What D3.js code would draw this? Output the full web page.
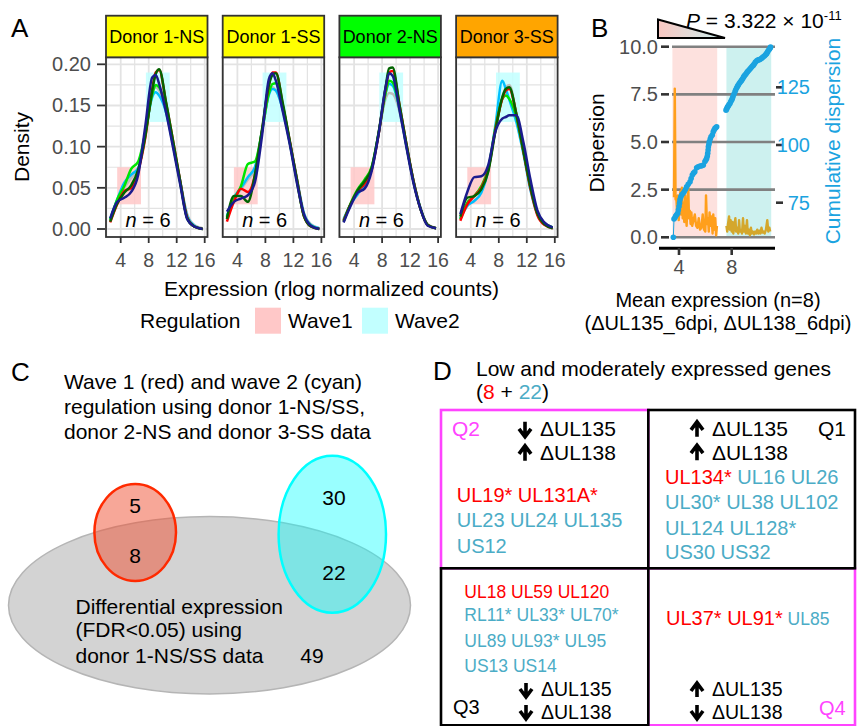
<!DOCTYPE html>
<html><head><meta charset="utf-8">
<script src="https://cdn.jsdelivr.net/npm/d3@7"></script>
<style>body{margin:0;background:#fff}svg{display:block}text{font-family:"Liberation Sans",Arial,sans-serif}</style>
</head><body>
<svg id="c" width="863" height="726"></svg>
<script>
// ---------- Panel A data ----------
const donors = ["Donor 1-NS","Donor 1-SS","Donor 2-NS","Donor 3-SS"];
const stripColors = ["#FFFF00","#FFFF00","#00FF00","#FFA500"];
const densityX = [2.5,3.5,4.5,5.5,6.5,7.5,8.5,9,9.5,10.5,11.5,12.5,13.5,14.5,15.7];
const sampleColors = ["#BDBDBD","#00BFFF","#00E600","#FF0000","#006400","#1B1B8E"];
const densD1NS = [
 [0.011,0.034,0.050,0.062,0.072,0.118,0.165,0.172,0.168,0.143,0.102,0.058,0.018,0.005,0.001],
 [0.012,0.036,0.056,0.066,0.074,0.116,0.160,0.166,0.162,0.141,0.101,0.058,0.016,0.004,0.000],
 [0.011,0.036,0.052,0.073,0.082,0.116,0.163,0.175,0.172,0.146,0.102,0.056,0.013,0.003,0.000],
 [0.008,0.030,0.046,0.050,0.070,0.110,0.170,0.190,0.193,0.152,0.106,0.058,0.014,0.003,0.000],
 [0.009,0.031,0.044,0.053,0.072,0.112,0.168,0.188,0.194,0.153,0.106,0.058,0.013,0.003,0.000],
 [0.013,0.033,0.038,0.045,0.066,0.124,0.184,0.187,0.176,0.141,0.098,0.054,0.012,0.003,0.000]];
const densD1SS = [
 [0.015,0.036,0.048,0.060,0.072,0.117,0.165,0.172,0.168,0.145,0.105,0.062,0.020,0.006,0.001],
 [0.016,0.038,0.050,0.063,0.075,0.118,0.163,0.170,0.168,0.144,0.104,0.060,0.019,0.005,0.001],
 [0.014,0.036,0.052,0.079,0.082,0.118,0.165,0.176,0.177,0.148,0.104,0.058,0.016,0.004,0.000],
 [0.009,0.033,0.049,0.045,0.065,0.118,0.175,0.190,0.190,0.150,0.106,0.060,0.016,0.003,0.000],
 [0.012,0.040,0.040,0.033,0.066,0.120,0.175,0.187,0.189,0.152,0.106,0.060,0.016,0.003,0.000],
 [0.021,0.033,0.037,0.041,0.057,0.112,0.182,0.189,0.180,0.142,0.102,0.056,0.018,0.004,0.000]];
const densD2NS = [
 [0.011,0.030,0.045,0.058,0.074,0.116,0.158,0.165,0.164,0.142,0.100,0.058,0.025,0.006,0.001],
 [0.012,0.030,0.042,0.054,0.072,0.116,0.165,0.176,0.174,0.145,0.100,0.058,0.025,0.005,0.001],
 [0.010,0.031,0.048,0.060,0.075,0.116,0.165,0.180,0.178,0.146,0.100,0.057,0.024,0.005,0.001],
 [0.010,0.030,0.046,0.055,0.072,0.115,0.170,0.190,0.192,0.150,0.102,0.058,0.024,0.005,0.001],
 [0.009,0.030,0.047,0.058,0.074,0.117,0.172,0.195,0.196,0.150,0.102,0.057,0.024,0.005,0.001],
 [0.008,0.028,0.044,0.049,0.070,0.115,0.172,0.189,0.186,0.144,0.098,0.055,0.024,0.004,0.001]];
const densD3SS = [
 [0.012,0.030,0.040,0.050,0.072,0.120,0.160,0.172,0.175,0.140,0.096,0.052,0.019,0.006,0.002],
 [0.013,0.028,0.034,0.044,0.072,0.125,0.180,0.170,0.157,0.130,0.092,0.048,0.018,0.006,0.002],
 [0.012,0.032,0.040,0.052,0.074,0.122,0.158,0.162,0.158,0.136,0.095,0.052,0.020,0.007,0.002],
 [0.010,0.030,0.040,0.050,0.072,0.120,0.158,0.168,0.170,0.140,0.095,0.050,0.017,0.005,0.001],
 [0.015,0.038,0.040,0.048,0.070,0.118,0.160,0.170,0.172,0.140,0.096,0.052,0.019,0.006,0.001],
 [0.018,0.045,0.063,0.064,0.078,0.118,0.134,0.136,0.138,0.138,0.106,0.061,0.023,0.008,0.002]];
const densities = [densD1NS, densD1SS, densD2NS, densD3SS];
const waveNames = ["Wave1","Wave2"];
const waveColors = ["#FFC8C8","#C2FFFF"];
const waveXRange = [[3.5,6.9],[7.6,11.0]];
const waveDensRange = [[0.03,0.075],[0.13,0.19]];
const densXTicks = [4,8,12,16];
const densYTicks = [0,0.05,0.10,0.15,0.20];

// ---------- Panel B data ----------
const dispTicks = [0,2.5,5,7.5,10];
const cumTicks = [75,100,125];
const meanTicks = [4,8];
const wave1MeanX = [3.62,3.68,3.74,3.8,3.86,3.92,3.98,4.04,4.1,4.16,4.22,4.28,4.34,4.4,4.46,4.52,4.58,4.64,4.7,4.76,4.82,4.88,4.94,5.0,5.1,5.2,5.3,5.4,5.5,5.6,5.7,5.8,5.9,6.0,6.05,6.12,6.2,6.26,6.32,6.4,6.46,6.55,6.6,6.68,6.75,6.82,6.88];
const wave1Disp  = [2.1,7.8,2.0,2.0,1.3,2.2,0.9,1.6,2.4,1.2,2.6,1.0,1.8,0.8,2.2,1.1,0.6,1.9,2.7,1.0,1.4,0.7,1.3,0.6,0.9,1.2,0.6,0.5,1.0,0.4,0.5,1.2,0.4,0.3,2.2,0.7,1.0,0.3,1.3,0.6,1.1,0.2,1.2,0.4,1.0,0.1,0.6];
const wave2MeanX = [7.6,7.66,7.72,7.8,7.86,7.92,8.0,8.06,8.12,8.2,8.28,8.34,8.42,8.5,8.56,8.62,8.7,8.78,8.86,8.92,9.0,9.08,9.16,9.22,9.3,9.38,9.46,9.52,9.6,9.7,9.78,9.86,9.94,10.02,10.1,10.18,10.26,10.34,10.42,10.5,10.6,10.7,10.78,10.86,10.92];
const wave2Disp  = [0.6,0.3,0.7,1.1,0.4,0.9,0.3,0.8,0.2,0.6,1.0,0.3,0.5,0.2,0.9,0.3,0.4,0.2,1.0,0.3,0.6,0.2,0.9,0.2,0.4,0.1,0.5,0.2,0.3,0.15,0.3,0.2,0.4,0.2,0.35,0.2,0.5,0.25,0.3,0.2,0.4,0.9,0.3,0.5,0.3];
const wave1CumX = [3.57,3.62,3.7,3.75,3.82,3.9,3.95,4.0,4.04,4.07,4.13,4.2,4.3,4.4,4.5,4.58,4.7,4.84,4.92,5.01,5.1,5.2,5.34,5.45,5.6,5.72,5.85,5.97,6.05,6.1,6.15,6.18,6.21,6.23,6.27,6.3,6.37,6.43,6.53,6.6,6.66,6.73,6.8,6.86];
const wave1Cum  = [60,67.9,68.6,69.2,69.8,70.4,71.8,73.3,74.8,76.2,77.4,78.3,79.0,79.8,80.8,81.9,83.0,84.1,85.5,87.0,87.8,88.4,90.1,90.6,90.9,91.0,91.3,92.8,93.6,94.2,95.2,96.4,97.8,99.2,100.3,101.4,102.6,103.6,104.3,105.7,106.5,107.2,107.6,107.9];
const wave2CumX = [7.57,7.62,7.66,7.7,7.75,7.8,7.87,7.93,8.0,8.05,8.1,8.17,8.25,8.3,8.37,8.44,8.5,8.57,8.64,8.7,8.76,8.83,8.9,8.95,9.01,9.08,9.15,9.22,9.32,9.4,9.48,9.56,9.65,9.72,9.8,9.9,9.98,10.06,10.15,10.25,10.33,10.4,10.48,10.55,10.62,10.66,10.72,10.78,10.85,10.91,10.95];
const wave2Cum  = [115.1,115.6,116.2,116.6,117.0,117.5,118.0,118.8,119.5,120.2,121.0,122.0,123.1,123.8,124.7,125.4,126.0,126.6,127.2,127.6,128.1,128.7,129.4,129.9,130.3,130.8,131.4,131.9,132.5,133.0,133.6,134.1,134.6,135.2,135.9,136.5,136.8,136.9,137.1,137.5,137.9,138.2,138.6,139.0,139.4,139.7,140.3,140.9,141.4,141.9,142.4];

// ---------- Panel C data ----------
const vennSets = ["Wave 1","Wave 2","Differential expression"];
const vennCounts = {w1only:5, w1de:8, w2only:30, w2de:22, deonly:49};

// ---------- Panel D data ----------
const RED = "#FF0000", BLUE = "#4BACC6";
const q2Genes = [[["UL19* UL131A*",RED]],[["UL23 UL24 UL135",BLUE]],[["US12",BLUE]]];
const q1Genes = [[["UL134*",RED],[" UL16 UL26",BLUE]],[["UL30* UL38 UL102",BLUE]],[["UL124 UL128*",BLUE]],[["US30 US32",BLUE]]];
const q3Genes = [[["UL18 UL59 UL120",RED]],[["RL11* UL33* UL70*",BLUE]],[["UL89 UL93* UL95",BLUE]],[["US13 US14",BLUE]]];
const q4Genes = [[["UL37* UL91*",RED],[" UL85",BLUE]]];

// =====================================================
const svg = d3.select("#c");
const GRAY_TXT = "#4D4D4D";

// ---------- Panel A ----------
svg.append("text").attr("x",11).attr("y",37).attr("font-size",26).text("A");
const pW = 101.5, pTop = 57.3, pBot = 237, stripTop = 15.7;
const yA = d3.scaleLinear().domain([0,0.2]).range([229,64.3]);
densities.forEach((dens, i) => {
  const left = 106 + i*116.7;
  const x = d3.scaleLinear().domain([1.9,16.4]).range([left, left+pW]);
  const g = svg.append("g");
  g.append("rect").attr("x",left).attr("y",pTop).attr("width",pW).attr("height",pBot-pTop).attr("fill","#fff");
  const vg = [2,4,6,8,10,12,14,16];
  g.selectAll(".vg").data(vg).join("line").attr("x1",d=>x(d)).attr("x2",d=>x(d)).attr("y1",pTop).attr("y2",pBot)
    .attr("stroke","#E3E3E3").attr("stroke-width",d=>d%4===0?1.8:1.2);
  const hg = d3.range(0,0.2001,0.025);
  g.selectAll(".hg").data(hg).join("line").attr("x1",left).attr("x2",left+pW).attr("y1",d=>yA(d)).attr("y2",d=>yA(d))
    .attr("stroke","#E3E3E3").attr("stroke-width",(d,j)=>j%2===0?1.8:1.2);
  waveNames.forEach((w,k)=>{
    g.append("rect").attr("x",x(waveXRange[k][0])).attr("width",x(waveXRange[k][1])-x(waveXRange[k][0]))
      .attr("y",yA(waveDensRange[k][1])).attr("height",yA(waveDensRange[k][0])-yA(waveDensRange[k][1]))
      .attr("fill",waveColors[k]).attr("opacity",0.85);
  });
  const line = d3.line().x((d,j)=>x(densityX[j])).y(d=>yA(d)).curve(d3.curveMonotoneX);
  dens.forEach((s,k)=>{
    g.append("path").attr("d",line(s)).attr("fill","none").attr("stroke",sampleColors[k]).attr("stroke-width",2.5);
  });
  g.append("rect").attr("x",left).attr("y",pTop).attr("width",pW).attr("height",pBot-pTop).attr("fill","none")
    .attr("stroke","#333").attr("stroke-width",1.8);
  g.append("rect").attr("x",left).attr("y",stripTop).attr("width",pW).attr("height",pTop-stripTop)
    .attr("fill",stripColors[i]).attr("stroke","#333").attr("stroke-width",1.8);
  g.append("text").attr("x",left+pW/2).attr("y",43).attr("text-anchor","middle").attr("font-size",18).text(donors[i]);
  const nt = g.append("text").attr("x",left+42).attr("y",227).attr("text-anchor","middle").attr("font-size",20);
  nt.append("tspan").attr("font-style","italic").text("n");
  nt.append("tspan").text(" = 6");
  g.selectAll(".xt").data(densXTicks).join("line").attr("x1",d=>x(d)).attr("x2",d=>x(d)).attr("y1",pBot).attr("y2",pBot+6)
    .attr("stroke","#333").attr("stroke-width",1.8);
  g.selectAll(".xl").data(densXTicks).join("text").attr("x",d=>x(d)).attr("y",267).attr("text-anchor","middle")
    .attr("font-size",19.5).attr("fill",GRAY_TXT).text(d=>d);
});
svg.selectAll(".ayt").data(densYTicks).join("line").attr("x1",97).attr("x2",105).attr("y1",d=>yA(d)).attr("y2",d=>yA(d))
  .attr("stroke","#333").attr("stroke-width",1.8);
svg.selectAll(".ayl").data(densYTicks).join("text").attr("x",91).attr("y",d=>yA(d)+7).attr("text-anchor","end")
  .attr("font-size",20).attr("fill",GRAY_TXT).text(d=>d3.format(".2f")(d));
svg.append("text").attr("transform","translate(29,147) rotate(-90)").attr("text-anchor","middle").attr("font-size",21).text("Density");
svg.append("text").attr("x",331.5).attr("y",296).attr("text-anchor","middle").attr("font-size",21).text("Expression (rlog normalized counts)");
svg.append("text").attr("x",140).attr("y",328).attr("font-size",21).text("Regulation");
const legX = [255,362];
waveNames.forEach((w,k)=>{
  svg.append("rect").attr("x",legX[k]).attr("y",307.7).attr("width",26).attr("height",26).attr("fill",waveColors[k]);
  svg.append("text").attr("x",legX[k]+33).attr("y",328).attr("font-size",21).text(w);
});

// ---------- Panel B ----------
svg.append("text").attr("x",591).attr("y",37).attr("font-size",26).text("B");
const xB = d3.scaleLinear().domain([4,8]).range([679,731.7]);
const yB = d3.scaleLinear().domain([0,10]).range([237.3,46.7]);
const yC = d3.scaleLinear().domain([60,142.6]).range([237.3,46.7]);
const gB = svg.append("g");
const defs = svg.append("defs");
const grad = defs.append("linearGradient").attr("id","tri").attr("x1","0%").attr("x2","100%");
grad.append("stop").attr("offset","0%").attr("stop-color","#FAC8C2");
grad.append("stop").attr("offset","100%").attr("stop-color","#C9EEEE");
gB.append("path").attr("d","M658,19.5 L725,38 L658,38 Z").attr("fill","url(#tri)").attr("stroke","#000").attr("stroke-width",2);
const pt = gB.append("text").attr("x",686).attr("y",28).attr("font-size",21);
pt.append("tspan").attr("font-style","italic").text("P");
pt.append("tspan").text(" = 3.322 × 10");
pt.append("tspan").attr("font-size",13).attr("dy",-8).text("-11");
waveNames.forEach((w,k)=>{
  gB.append("rect").attr("x",xB(waveXRange[k][0])).attr("width",xB(waveXRange[k][1])-xB(waveXRange[k][0]))
    .attr("y",yB(10)).attr("height",yB(0)-yB(10)).attr("fill",k===0?"#FDE1DE":"#CDF1EF");
});
gB.selectAll(".bg").data(dispTicks).join("line").attr("x1",672).attr("x2",775).attr("y1",d=>yB(d)).attr("y2",d=>yB(d))
  .attr("stroke","#808080").attr("stroke-width",2.6);
gB.selectAll(".bt").data(dispTicks).join("line").attr("x1",661).attr("x2",669).attr("y1",d=>yB(d)).attr("y2",d=>yB(d))
  .attr("stroke","#333").attr("stroke-width",2.6);
gB.selectAll(".bl").data(dispTicks).join("text").attr("x",658).attr("y",d=>yB(d)+7).attr("text-anchor","end")
  .attr("font-size",20).attr("fill",GRAY_TXT).text(d=>d3.format(".1f")(d));
gB.selectAll(".ct").data(cumTicks).join("line").attr("x1",776).attr("x2",783).attr("y1",d=>yC(d)).attr("y2",d=>yC(d))
  .attr("stroke","#333").attr("stroke-width",2.6);
gB.selectAll(".cl").data(cumTicks).join("text").attr("x",810).attr("y",d=>yC(d)+7).attr("text-anchor","end")
  .attr("font-size",20).attr("fill","#1BA3E0").text(d=>d);
gB.append("line").attr("x1",659).attr("x2",775).attr("y1",248.3).attr("y2",248.3).attr("stroke","#000").attr("stroke-width",3);
gB.selectAll(".mt").data(meanTicks).join("line").attr("x1",d=>xB(d)).attr("x2",d=>xB(d)).attr("y1",248).attr("y2",255)
  .attr("stroke","#333").attr("stroke-width",2.6);
gB.selectAll(".ml").data(meanTicks).join("text").attr("x",d=>xB(d)).attr("y",274).attr("text-anchor","middle")
  .attr("font-size",20).attr("fill",GRAY_TXT).text(d=>d);
const dLine = d3.line().x(d=>xB(d[0])).y(d=>yB(d[1]));
gB.append("path").attr("d",dLine(d3.zip(wave1MeanX,wave1Disp))).attr("fill","none").attr("stroke","#FF9F1C").attr("stroke-width",2.4).attr("stroke-linejoin","round");
gB.append("path").attr("d",dLine(d3.zip(wave2MeanX,wave2Disp))).attr("fill","none").attr("stroke","#D4A72C").attr("stroke-width",2.4).attr("stroke-linejoin","round");
const cLine = d3.line().x(d=>xB(d[0])).y(d=>yC(d[1]));
[[wave1CumX,wave1Cum],[wave2CumX,wave2Cum]].forEach(([cx,cy])=>{
  const pts = d3.zip(cx,cy);
  gB.append("path").attr("d",cLine(pts)).attr("fill","none").attr("stroke","#1BA3E0").attr("stroke-width",1);
  gB.selectAll(null).data(pts).join("circle").attr("cx",d=>xB(d[0])).attr("cy",d=>yC(d[1])).attr("r",2.8).attr("fill","#1BA3E0");
});
gB.append("text").attr("transform","translate(604,143) rotate(-90)").attr("text-anchor","middle").attr("font-size",21).text("Dispersion");
gB.append("text").attr("transform","translate(840,141) rotate(-90)").attr("text-anchor","middle").attr("font-size",21).attr("fill","#1BA3E0").text("Cumulative dispersion");
gB.append("text").attr("x",718).attr("y",307).attr("text-anchor","middle").attr("font-size",20).text("Mean expression (n=8)");
gB.append("text").attr("x",718).attr("y",330).attr("text-anchor","middle").attr("font-size",20).text("(ΔUL135_6dpi, ΔUL138_6dpi)");

// ---------- Panel C ----------
svg.append("text").attr("x",11).attr("y",381).attr("font-size",26).text("C");
["Wave 1 (red) and wave 2 (cyan)","regulation using donor 1-NS/SS,","donor 2-NS and donor 3-SS data"].forEach((t,i)=>{
  svg.append("text").attr("x",64).attr("y",389+i*25).attr("font-size",21).text(t);
});
const ell = [
  {cx:209.5,cy:605.3,rx:201,ry:88.7,fill:"#D3D3D3",fo:1,stroke:"#B5B5B5",sw:1.5},
  {cx:135.2,cy:532.5,rx:40.8,ry:48.5,fill:"rgb(239,80,49)",fo:0.5,stroke:"#FF2A00",sw:2.5},
  {cx:332.3,cy:534.2,rx:53.7,ry:78.5,fill:"#00FFFF",fo:0.4,stroke:"#00FFFF",sw:2.5}];
svg.selectAll(".ell").data(ell).join("ellipse").attr("cx",d=>d.cx).attr("cy",d=>d.cy).attr("rx",d=>d.rx).attr("ry",d=>d.ry)
  .attr("fill",d=>d.fill).attr("fill-opacity",d=>d.fo).attr("stroke",d=>d.stroke).attr("stroke-width",d=>d.sw);
const vennLab = [[135,506,vennCounts.w1only],[135,556,vennCounts.w1de],[334,498,vennCounts.w2only],[334,573,vennCounts.w2de],[312,656,vennCounts.deonly]];
vennLab.forEach(([x,y,t])=>svg.append("text").attr("x",x).attr("y",y+7).attr("text-anchor","middle").attr("font-size",21).text(t));
["Differential expression","(FDR<0.05) using","donor 1-NS/SS data"].forEach((t,i)=>{
  svg.append("text").attr("x",75.5).attr("y",[614,637,663][i]).attr("font-size",21).text(t);
});

// ---------- Panel D ----------
svg.append("text").attr("x",433).attr("y",380).attr("font-size",26).text("D");
svg.append("text").attr("x",476).attr("y",376).attr("font-size",21).text("Low and moderately expressed genes");
const sub = svg.append("text").attr("x",476).attr("y",399).attr("font-size",21);
sub.append("tspan").text("(");
sub.append("tspan").attr("fill",RED).text("8");
sub.append("tspan").text(" + ");
sub.append("tspan").attr("fill",BLUE).text("22");
sub.append("tspan").text(")");
const MAG = "#FF44FF";
const boxes = [
  {x:441,y:410,w:207.3,h:158.3,c:MAG},{x:648.3,y:568.3,w:206.7,h:157,c:MAG},
  {x:648.3,y:410,w:206.7,h:158.3,c:"#000"},{x:441,y:568.3,w:207.3,h:157,c:"#000"}];
svg.selectAll(".box").data(boxes).join("rect").attr("x",d=>d.x).attr("y",d=>d.y).attr("width",d=>d.w).attr("height",d=>d.h)
  .attr("fill","none").attr("stroke",d=>d.c).attr("stroke-width",2.6);
function arrow(cx, cy, up, h){
  h = h || 7.5; const s = up?-1:1;
  svg.append("path").attr("d",`M${cx},${cy-s*h} L${cx},${cy+s*(h-1)} M${cx-6},${cy+s*(h-8)} L${cx},${cy+s*h} L${cx+6},${cy+s*(h-8)}`)
    .attr("fill","none").attr("stroke","#000").attr("stroke-width",3.6).attr("stroke-linejoin","miter");
}
function lab(x,cy,t,col,fs){const f=fs||21; svg.append("text").attr("x",x).attr("y",cy+f*0.34).attr("font-size",f).attr("fill",col||"#000").text(t);}
// Q2
lab(452,429.3,"Q2",MAG); arrow(525,429.3,false); lab(540,429.3,"ΔUL135"); arrow(525,453.3,true); lab(540,453.3,"ΔUL138");
// Q1
arrow(697,429.3,true); lab(712,429.3,"ΔUL135"); lab(818,429.3,"Q1"); arrow(697,452.7,true); lab(712,452.7,"ΔUL138");
// Q3
lab(453,706.7,"Q3",null,20); arrow(526,690,false,7); lab(541,689.5,"ΔUL135",null,19.5); arrow(526,712,false,7); lab(541,712.5,"ΔUL138",null,19.5);
// Q4
arrow(697,690,true,7); lab(712,689.5,"ΔUL135",null,19.5); arrow(697,712,false,7); lab(712,712.5,"ΔUL138",null,19.5); lab(819,707.7,"Q4",MAG,20);
function geneBlock(lines, x, ys, fs, fsArr){
  lines.forEach((parts,i)=>{
    const t = svg.append("text").attr("x",x).attr("y",ys[i]+7).attr("font-size",fs);
    parts.forEach(([s,c],j)=>t.append("tspan").attr("fill",c).attr("font-size",fsArr?fsArr[j]:fs).text(s));
  });
}
geneBlock(q2Genes,456.7,[495,520,546],20);
geneBlock(q1Genes,665,[477.3,502.3,528.3,551.7],20);
geneBlock(q3Genes,464.3,[590.7,614,640,665],17.5);
geneBlock(q4Genes,666,[618.3],20,[20,17.5]);
</script>
</body></html>
